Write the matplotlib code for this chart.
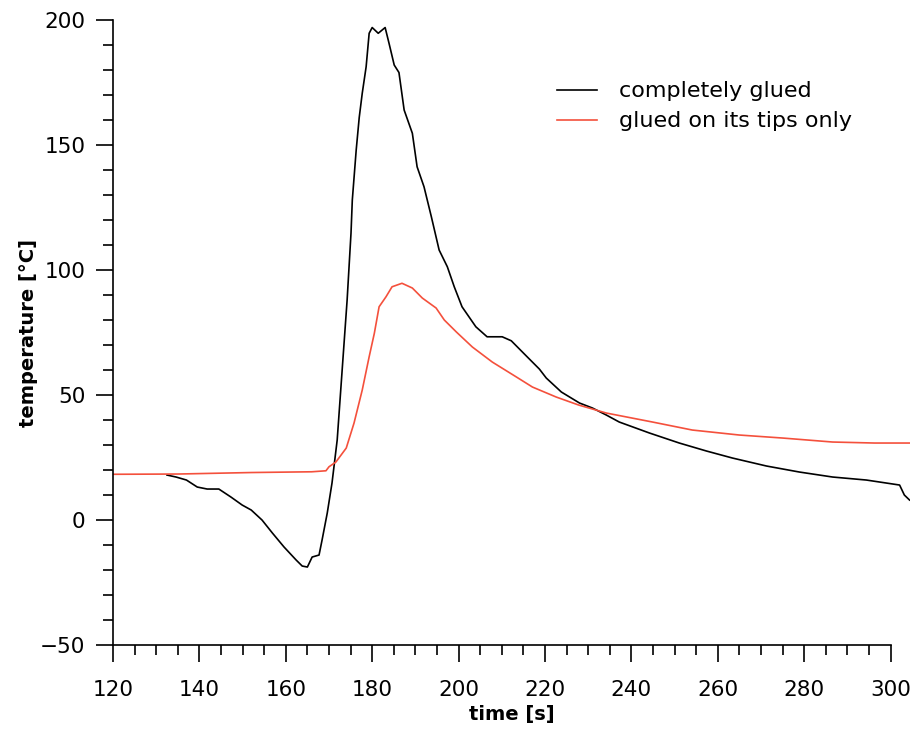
import matplotlib.pyplot as plt
from matplotlib.ticker import MultipleLocator

# completely glued (black)
t_full = [132.5, 134.6, 137.0, 139.5, 141.8, 144.5, 147.3, 149.9, 152.0, 154.5,
          156.9, 159.6, 162.4, 163.8, 165.0, 166.1, 167.7, 168.4, 169.6, 170.7,
          171.9, 174.2, 175.1, 175.4, 176.3, 177.0, 177.7, 178.6, 179.3, 180.0,
          181.4, 183.0, 183.9, 185.1, 186.2, 187.4, 189.3, 190.4, 192.0, 193.7,
          195.5, 197.4, 199.0, 200.8, 204.0, 206.6, 210.1, 212.2, 215.7, 218.7,
          220.3, 223.8, 228.0, 231.0, 234.2, 237.2, 244.2, 251.1, 257.4, 263.4,
          271.3, 278.9, 286.6, 294.4, 302.1, 303.2, 304.4]
T_full = [18.0, 17.2, 16.0, 13.2, 12.4, 12.4, 9.2, 6.0, 4.0, 0.0,
          -5.2, -10.8, -16.0, -18.4, -18.8, -14.8, -14.0, -8.0, 2.8, 14.8,
          32.0, 88.0, 114.8, 128.0, 148.0, 161.0, 170.7, 181.3, 194.7, 197.0,
          194.7, 197.0, 190.7, 182.0, 179.0, 164.0, 154.7, 141.3, 133.3, 121.3,
          108.0, 101.3, 93.3, 85.3, 77.3, 73.3, 73.3, 71.7, 65.6, 60.4,
          56.8, 51.2, 46.8, 44.8, 42.0, 39.2, 34.8, 30.8, 27.6, 24.8,
          21.6, 19.2, 17.2, 16.0, 14.0, 10.0, 8.0]

# glued on its tips only (red)
t_tips = [120.0, 135.0, 152.0, 166.0, 169.3, 170.0, 171.6, 174.0, 175.8, 177.7,
          179.3, 180.5, 181.6, 183.2, 184.6, 186.9, 189.3, 191.6, 194.8, 196.7,
          199.5, 203.2, 207.8, 213.4, 217.1, 222.6, 227.8, 234.2, 244.9, 254.1,
          265.0, 275.0, 286.6, 296.3, 304.4]
T_tips = [18.3, 18.4, 19.0, 19.3, 19.7, 21.3, 23.2, 28.8, 38.8, 52.0,
          65.3, 74.7, 85.3, 89.3, 93.3, 94.7, 92.8, 88.8, 84.8, 80.0,
          75.2, 69.2, 63.2, 57.2, 53.2, 49.2, 46.0, 42.8, 39.2, 36.0,
          34.0, 32.8, 31.2, 30.8, 30.8]

fig = plt.figure(figsize=(9.15, 7.31), dpi=100)
ax = fig.add_axes([0.1235, 0.1176, 0.871, 0.855])

ax.plot(t_full, T_full, color="black", lw=1.2, label="completely glued")
ax.plot(t_tips, T_tips, color="#f4503c", lw=1.2, label="glued on its tips only")

ax.set_xlim(120, 304.5)
ax.set_ylim(-50, 200)
ax.spines["top"].set_visible(False)
ax.spines["right"].set_visible(False)
ax.spines["bottom"].set_bounds(120, 300)
for s in ("left", "bottom"):
    ax.spines[s].set_linewidth(1.2)

ax.xaxis.set_major_locator(MultipleLocator(20))
ax.xaxis.set_minor_locator(MultipleLocator(5))
ax.yaxis.set_major_locator(MultipleLocator(50))
ax.yaxis.set_minor_locator(MultipleLocator(10))
ax.set_xticks(range(120, 301, 20))
ax.tick_params(which="major", length=12, width=1.2, direction="out", labelsize=15.5, pad=8)
ax.tick_params(which="minor", length=7.5, width=1.2, direction="out")
ax.tick_params(axis="x", which="major", pad=13)

ax.set_xlabel("time [s]", fontsize=14, fontweight="bold", labelpad=4)
ax.set_ylabel("temperature [°C]", fontsize=14, fontweight="bold", labelpad=1)

ax.legend(loc="upper left", bbox_to_anchor=(0.557, 0.902), frameon=False,
          fontsize=16, handlelength=1.8, handletextpad=1.0, labelspacing=0.45,
          borderpad=0, borderaxespad=0)

plt.savefig("out.png", dpi=100)
